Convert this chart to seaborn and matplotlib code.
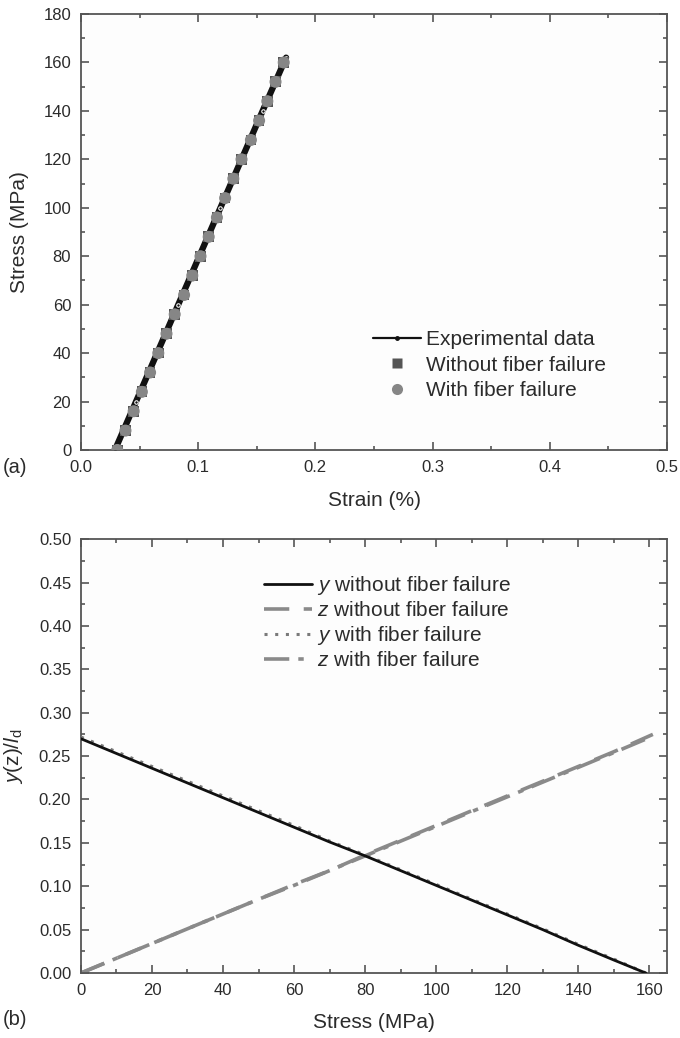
import matplotlib
matplotlib.use("Agg")
import matplotlib.pyplot as plt
import seaborn as sns
import pandas as pd
from matplotlib.ticker import MultipleLocator
from matplotlib.lines import Line2D

# ---------------- data: panel (a) ----------------
exp_strain = [0.029, 0.047, 0.065, 0.083, 0.101, 0.119, 0.137, 0.155, 0.175]
exp_stress = [0, 20, 40, 60, 80, 100, 120, 140, 162]

model_stress = [0, 8, 16, 24, 32, 40, 48, 56, 64, 72, 80, 88, 96, 104, 112,
                120, 128, 136, 144, 152, 160]
model_strain = [0.031, 0.038, 0.045, 0.052, 0.059, 0.066, 0.073, 0.080, 0.088,
                0.095, 0.102, 0.109, 0.116, 0.123, 0.130, 0.137, 0.145, 0.152,
                0.159, 0.166, 0.173]

# ---------------- data: panel (b) ----------------
stress_b = [0, 10, 20, 30, 40, 50, 60, 70, 80, 90, 100, 110, 120, 130, 140, 150, 159]
y_without = [0.270, 0.253, 0.236, 0.219, 0.202, 0.185, 0.168, 0.151, 0.135,
             0.118, 0.101, 0.084, 0.067, 0.050, 0.032, 0.015, 0.000]
y_with = [0.272, 0.255, 0.238, 0.221, 0.204, 0.187, 0.170, 0.152, 0.136,
          0.119, 0.102, 0.085, 0.068, 0.051, 0.033, 0.016, 0.000]
stress_z = [0, 10, 20, 30, 40, 50, 60, 70, 80, 90, 100, 110, 120, 130, 140, 150, 161]
z_without = [0.000, 0.017, 0.034, 0.051, 0.068, 0.085, 0.102, 0.118, 0.136,
             0.153, 0.170, 0.187, 0.204, 0.221, 0.238, 0.255, 0.275]
z_with = [0.000, 0.017, 0.034, 0.051, 0.068, 0.085, 0.101, 0.118, 0.135,
          0.152, 0.169, 0.186, 0.203, 0.220, 0.237, 0.254, 0.273]

sns.set_style("ticks")
plt.rcParams["font.family"] = ["Liberation Sans", "DejaVu Sans"]
plt.rcParams["mathtext.fontset"] = "custom"
plt.rcParams["mathtext.rm"] = "Liberation Sans"
plt.rcParams["mathtext.it"] = "Liberation Sans:italic"
plt.rcParams["mathtext.bf"] = "Liberation Sans:bold"

TXT = "#2b2b2b"
SPN = "#555555"
FS_TICK = 12
FS_LAB = 15
FS_LEG = 15

fig = plt.figure(figsize=(6.8, 10.38), dpi=100)
fig.patch.set_facecolor("white")
ax1 = fig.add_axes([0.119, 0.5665, 0.862, 0.42])
ax2 = fig.add_axes([0.119, 0.0626, 0.862, 0.418])


def style_axes(ax):
    for s in ax.spines.values():
        s.set_color(SPN)
        s.set_linewidth(1.3)
    ax.tick_params(which="both", direction="in", top=True, right=True,
                   color=SPN, labelcolor=TXT, labelsize=FS_TICK, width=1.2)
    ax.tick_params(which="major", length=5.5, pad=7)
    ax.tick_params(which="minor", length=3)
    ax.set_facecolor("#fdfdfd")


# ---------- panel (a) ----------
df_exp = pd.DataFrame({"strain": exp_strain, "stress": exp_stress})
df_mod = pd.DataFrame({"strain": model_strain, "stress": model_stress})
sns.lineplot(data=df_exp, x="strain", y="stress", ax=ax1, color="#111111",
             lw=4.5, marker="o", markersize=2.5, sort=False, zorder=2)
sns.scatterplot(data=df_mod, x="strain", y="stress", ax=ax1, marker="s",
                s=60, color="#555555", edgecolor="none", zorder=3)
sns.scatterplot(data=df_mod, x="strain", y="stress", ax=ax1, marker="o",
                s=75, color="#868686", edgecolor="none", zorder=4)
ax1.set_xlim(0, 0.5)
ax1.set_ylim(0, 180)
ax1.xaxis.set_major_locator(MultipleLocator(0.1))
ax1.xaxis.set_minor_locator(MultipleLocator(0.05))
ax1.yaxis.set_major_locator(MultipleLocator(20))
ax1.yaxis.set_minor_locator(MultipleLocator(10))
ax1.set_xticks([0, 0.1, 0.2, 0.3, 0.4, 0.5])
ax1.set_xticklabels(["0.0", "0.1", "0.2", "0.3", "0.4", "0.5"])
style_axes(ax1)
ax1.set_xlabel("Strain (%)", fontsize=FS_LAB, color=TXT, labelpad=12)
ax1.set_ylabel("Stress (MPa)", fontsize=FS_LAB, color=TXT, labelpad=10)

h1 = [Line2D([], [], color="#111111", lw=1.6, marker="o", markersize=2.5),
      Line2D([], [], ls="none", marker="s", markersize=7, color="#555555",
             markeredgecolor="none"),
      Line2D([], [], ls="none", marker="o", markersize=8, color="#868686",
             markeredgecolor="none")]
ax1.legend(h1, ["Experimental data", "Without fiber failure", "With fiber failure"],
           loc="upper left", bbox_to_anchor=(0.5485, 0.682),
           bbox_transform=fig.transFigure, frameon=False, fontsize=FS_LEG,
           handlelength=2.3, handletextpad=0.25, labelspacing=0.31, borderpad=0,
           borderaxespad=0, labelcolor=TXT)

# ---------- panel (b) ----------
df_y = pd.DataFrame({"stress": stress_b, "yw": y_without, "yf": y_with})
df_z = pd.DataFrame({"stress": stress_z, "zw": z_without, "zf": z_with})
sns.lineplot(data=df_z, x="stress", y="zw", ax=ax2, color="#8a8a8a", lw=2.6,
             zorder=2).lines[-1].set_dashes([7, 4])
sns.lineplot(data=df_z, x="stress", y="zf", ax=ax2, color="#8a8a8a", lw=2.6,
             zorder=2).lines[-1].set_dashes([7, 2.5, 1.5, 2.5])
sns.lineplot(data=df_y, x="stress", y="yf", ax=ax2, color="#7a7a7a", lw=2.2,
             zorder=3).lines[-1].set_dashes([1, 2.5])
sns.lineplot(data=df_y, x="stress", y="yw", ax=ax2, color="#111111", lw=2.0,
             zorder=4)
ax2.set_xlim(0, 165)
ax2.set_ylim(0, 0.5)
ax2.xaxis.set_major_locator(MultipleLocator(20))
ax2.xaxis.set_minor_locator(MultipleLocator(10))
ax2.yaxis.set_major_locator(MultipleLocator(0.05))
ax2.yaxis.set_minor_locator(MultipleLocator(0.025))
ax2.yaxis.set_major_formatter(matplotlib.ticker.FormatStrFormatter("%.2f"))
style_axes(ax2)
ax2.set_xlabel("Stress (MPa)", fontsize=FS_LAB, color=TXT, labelpad=11)
ax2.set_ylabel(r"$\mathit{y}$(z)/$\mathit{l}_{\mathrm{d}}$", fontsize=FS_LAB,
               color=TXT, labelpad=10)

h2 = [Line2D([], [], color="#111111", lw=2.0),
      Line2D([], [], color="#8a8a8a", lw=2.6, dashes=[7, 4]),
      Line2D([], [], color="#7a7a7a", lw=2.2, dashes=[1, 2.5]),
      Line2D([], [], color="#8a8a8a", lw=2.6, dashes=[7, 2.5, 1.5, 2.5])]
ax2.legend(h2, [r"$\mathit{y}$ without fiber failure",
                r"$\mathit{z}$ without fiber failure",
                r"$\mathit{y}$ with fiber failure",
                r"$\mathit{z}$ with fiber failure"],
           loc="upper left", bbox_to_anchor=(0.388, 0.447),
           bbox_transform=fig.transFigure, frameon=False, fontsize=FS_LEG,
           handlelength=2.3, handletextpad=0.25, labelspacing=0.19, borderpad=0,
           borderaxespad=0, labelcolor=TXT)

fig.text(0.004, 0.55, "(a)", fontsize=14.5, color=TXT, va="center")
fig.text(0.004, 0.018, "(b)", fontsize=14.5, color=TXT, va="center")

fig.savefig("out.png", dpi=100)
